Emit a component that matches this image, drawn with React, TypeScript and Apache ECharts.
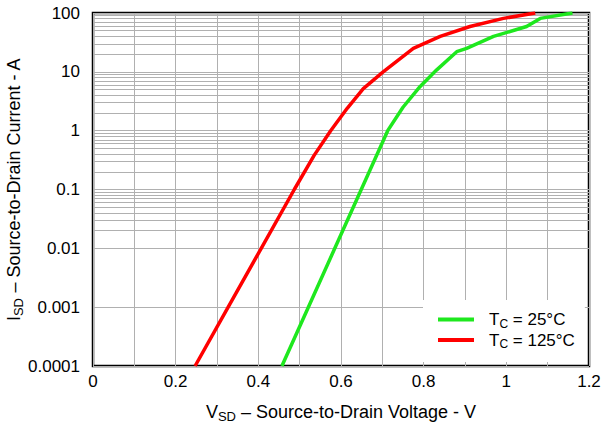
import React, { useEffect, useRef } from "react";
import * as echarts from "echarts";

const seriesNames = ["25°C", "125°C"];
const green25: [number, number][] = [
  [0.457, 0.0001], [0.521, 0.001], [0.585, 0.01], [0.649, 0.1], [0.713, 1],
  [0.75, 2.5], [0.791, 5.6], [0.831, 10.7], [0.88, 22], [0.904, 25],
  [0.969, 40], [1.049, 59], [1.082, 81], [1.16, 100],
];
const red125: [number, number][] = [
  [0.247, 0.0001], [0.327, 0.001], [0.407, 0.01], [0.487, 0.1], [0.535, 0.38],
  [0.575, 1], [0.615, 2.4], [0.654, 5.2], [0.702, 10], [0.775, 25],
  [0.84, 40], [0.912, 59], [0.993, 81], [1.07, 100],
];
const decades = [-4, -3, -2, -1, 0, 1];
const minorMultipliers = [2, 3, 4, 5, 6, 7, 8, 9];

const FONT = "'Liberation Sans', Arial, Helvetica, sans-serif";
const GRID = "#b0b0b0";

export default function App() {
  const ref = useRef<HTMLDivElement>(null);
  useEffect(() => {
    if (!ref.current) return;
    const chart = echarts.init(ref.current, undefined, { renderer: "svg" });
    const minorLines: { yAxis: number }[] = [];
    decades.forEach((d) =>
      minorMultipliers.forEach((m) =>
        minorLines.push({ yAxis: parseFloat((m * Math.pow(10, d)).toPrecision(3)) })
      )
    );
    const titleRich = {
      a: { fontSize: 18, fontFamily: FONT, color: "#000", lineHeight: 22 },
      b: { fontSize: 13, fontFamily: FONT, color: "#000", lineHeight: 13, verticalAlign: "bottom" },
    };
    const legendRich = {
      a: { fontSize: 17, fontFamily: FONT, color: "#000", lineHeight: 20 },
      b: { fontSize: 12, fontFamily: FONT, color: "#000", lineHeight: 12, verticalAlign: "bottom" },
    };
    chart.setOption({
      animation: false,
      grid: {
        left: 93, right: 12, top: 13, bottom: 60,
        outerBoundsMode: "none",
        containLabel: false,
        show: true, borderColor: "#000", borderWidth: 2.5, backgroundColor: "#fff",
      },
      legend: {
        data: seriesNames,
        orient: "vertical",
        left: 423, top: 300,
        padding: [11, 10, 12, 15],
        itemGap: 2,
        itemWidth: 36, itemHeight: 4,
        icon: "rect",
        backgroundColor: "#fff",
        formatter: (name: string) => `{a|T}{b|C}{a| = ${name}}`,
        textStyle: { rich: legendRich, padding: [0, 0, 0, 10] },
      },
      xAxis: {
        type: "value",
        min: 0, max: 1.2, interval: 0.1,
        axisLine: { show: false },
        axisTick: { show: false },
        splitLine: { show: true, lineStyle: { color: GRID, width: 1 } },
        axisLabel: {
          margin: 7, color: "#000", fontSize: 17, fontFamily: FONT,
          formatter: (v: number) => {
            const r = Math.round(v * 10);
            return r % 2 ? "" : String(r / 10);
          },
        },
        name: "{a|V}{b|SD}{a| – Source-to-Drain Voltage - V}",
        nameLocation: "middle",
        nameGap: 35,
        nameMoveOverlap: false,
        nameTextStyle: { rich: titleRich },
      },
      yAxis: {
        type: "log",
        logBase: 10,
        min: 0.0001, max: 100,
        splitNumber: 6,
        axisLine: { show: false },
        axisTick: { show: false },
        splitLine: { show: true, lineStyle: { color: GRID, width: 1 } },
        axisLabel: {
          margin: 13, color: "#000", fontSize: 17, fontFamily: FONT,
          formatter: (v: number) => {
            const e = Math.round(Math.log10(v));
            return e < 0 ? v.toFixed(-e) : String(Math.round(v));
          },
        },
        name: "{a|I}{b|SD}{a| – Source-to-Drain Current - A}",
        nameLocation: "middle",
        nameRotate: 90,
        nameGap: 68,
        nameMoveOverlap: false,
        nameTextStyle: { rich: titleRich },
      },
      series: [
        {
          name: "minor",
          type: "line",
          data: [],
          z: 1,
          silent: true,
          markLine: {
            z: 1,
            silent: true,
            symbol: "none",
            label: { show: false },
            lineStyle: { color: GRID, width: 1, type: "solid" },
            data: minorLines,
            animation: false,
          },
        },
        {
          name: seriesNames[0],
          type: "line",
          data: green25,
          showSymbol: false,
          symbol: "none",
          z: 3,
          color: "#1ee81e",
          lineStyle: { color: "#1ee81e", width: 3.5 },
        },
        {
          name: seriesNames[1],
          type: "line",
          data: red125,
          showSymbol: false,
          symbol: "none",
          z: 3,
          color: "#ff0000",
          lineStyle: { color: "#ff0000", width: 3.5 },
        },
      ],
    });
    return () => chart.dispose();
  }, []);
  return <div ref={ref} style={{ width: 601, height: 426, position: "absolute", left: 0, top: 0 }} />;
}
